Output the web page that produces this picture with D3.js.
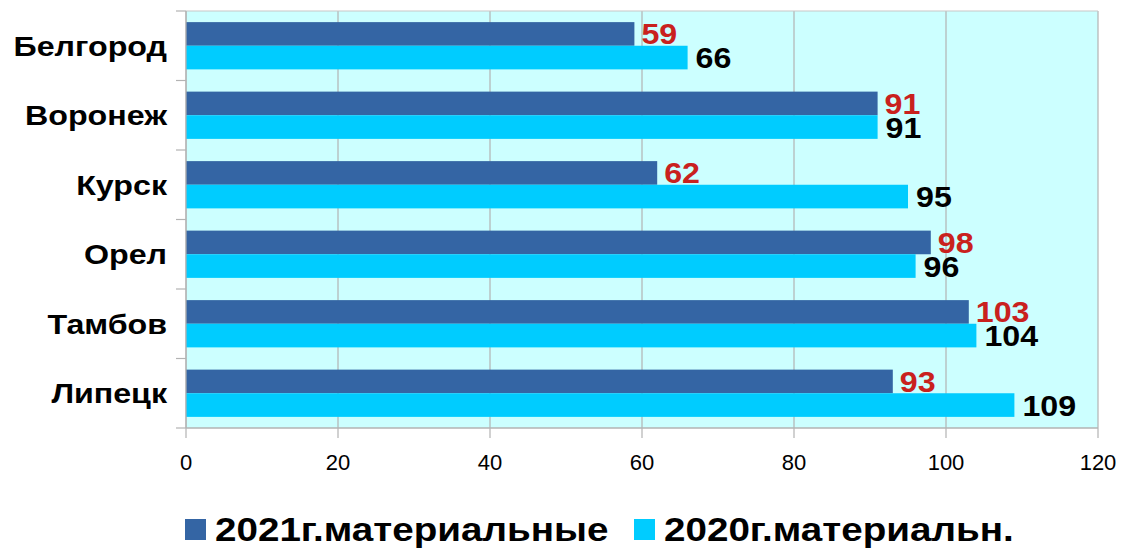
<!DOCTYPE html>
<html>
<head>
<meta charset="utf-8">
<script src="https://cdn.jsdelivr.net/npm/d3@7"></script>
<style>
  body { margin: 0; background: #fff; }
  text { font-family: "Liberation Sans", Arial, sans-serif; }
</style>
</head>
<body>
<svg id="chart"></svg>
<script>
var cities = ["Белгород", "Воронеж", "Курск", "Орел", "Тамбов", "Липецк"];
var values2021 = [59, 91, 62, 98, 103, 93];
var values2020 = [66, 91, 95, 96, 104, 109];
var seriesNames = ["2021г.материальные", "2020г.материальн."];
var xTicks = [0, 20, 40, 60, 80, 100, 120];

var width = 1121, height = 548;
var margin = { left: 186, right: 23, top: 11, bottom: 120 };
var plotW = width - margin.left - margin.right;
var plotH = height - margin.top - margin.bottom;

var svg = d3.select("#chart").attr("width", width).attr("height", height);
var g = svg.append("g").attr("transform", "translate(" + margin.left + "," + margin.top + ")");

var x = d3.scaleLinear().domain([0, 120]).range([0, plotW]);
var y = d3.scaleBand().domain(cities).range([0, plotH]).paddingInner(0.32).paddingOuter(0.16);
var step = plotH / cities.length;

// text stretched a bit wider, the original chart renders it like that
function wideText(parent, tx, ty, sx, str) {
  return parent.append("g")
    .attr("transform", "translate(" + tx + "," + ty + ") scale(" + sx + ",1)")
    .append("text")
    .text(str);
}

// background
g.append("rect")
  .attr("width", plotW)
  .attr("height", plotH)
  .style("fill", "#ccffff");

// vertical gridlines
g.selectAll(".grid")
  .data(xTicks)
  .enter()
  .append("line")
  .attr("x1", d => x(d)).attr("x2", d => x(d))
  .attr("y1", 0).attr("y2", plotH + 10)
  .style("stroke", "#b3b3b3")
  .style("stroke-width", 1.2);

// frame top
g.append("line").attr("x1", 0).attr("x2", plotW).attr("y1", 0).attr("y2", 0)
  .style("stroke", "#c8c8c8").style("stroke-width", 1.2);

// category ticks
g.selectAll(".ctick")
  .data(d3.range(cities.length + 1))
  .enter()
  .append("line")
  .attr("x1", -10).attr("x2", 0)
  .attr("y1", d => d * step).attr("y2", d => d * step)
  .style("stroke", "#b3b3b3")
  .style("stroke-width", 1.2);

// bars
var barH = y.bandwidth() / 2;
cities.forEach(function (c, i) {
  g.append("rect")
    .attr("x", 0)
    .attr("y", y(c))
    .attr("width", x(values2021[i]))
    .attr("height", barH)
    .style("fill", "#3465a4");
  g.append("rect")
    .attr("x", 0)
    .attr("y", y(c) + barH)
    .attr("width", x(values2020[i]))
    .attr("height", barH)
    .style("fill", "#00ccff");

  wideText(g, x(values2021[i]) + 7, y(c) + barH / 2 + 10.5, 1.11, values2021[i])
    .style("font-size", "29px")
    .style("font-weight", "bold")
    .style("fill", "#c9211e");
  wideText(g, x(values2020[i]) + 8, y(c) + barH * 1.5 + 10.5, 1.11, values2020[i])
    .style("font-size", "29px")
    .style("font-weight", "bold")
    .style("fill", "#000");

  wideText(g, -19, y(c) + barH + 10, 1.15, c)
    .attr("text-anchor", "end")
    .style("font-size", "28px")
    .style("font-weight", "bold");
});

// axes lines
g.append("line").attr("x1", 0).attr("x2", 0).attr("y1", 0).attr("y2", plotH)
  .style("stroke", "#b3b3b3").style("stroke-width", 1.2);
g.append("line").attr("x1", 0).attr("x2", plotW).attr("y1", plotH).attr("y2", plotH)
  .style("stroke", "#b3b3b3").style("stroke-width", 1.5);

// x tick labels
g.selectAll(".xl")
  .data(xTicks)
  .enter()
  .append("text")
  .attr("x", d => x(d))
  .attr("y", plotH + 42)
  .attr("text-anchor", "middle")
  .style("font-size", "22px")
  .text(d => d);

// legend
var legend = svg.append("g").attr("transform", "translate(0,541)");
var legItems = [
  { name: seriesNames[0], color: "#3465a4", x: 185 },
  { name: seriesNames[1], color: "#00ccff", x: 634 }
];
legItems.forEach(function (it) {
  legend.append("rect")
    .attr("x", it.x).attr("y", -22)
    .attr("width", 21).attr("height", 21)
    .style("fill", it.color);
  wideText(legend, it.x + 30, 0, 1.17, it.name)
    .style("font-size", "33px")
    .style("font-weight", "bold");
});
</script>
</body>
</html>
